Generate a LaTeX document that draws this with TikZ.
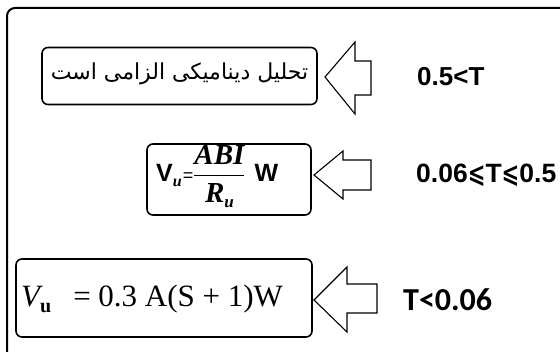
\documentclass[tikz,border=0pt]{standalone}
\usepackage{fontspec}
\setmainfont{Liberation Sans}
\newfontfamily\arabicfont[Script=Arabic]{DejaVu Sans}
\newfontfamily\tms{Liberation Serif}
\newfontfamily\calib{Carlito}
\newfontfamily\djv{DejaVu Sans}
\newcommand\myle{{\djv\bfseries\scalebox{0.8}[1]{⩽}}}
\TeXXeTstate=1
\tikzset{
  boxst/.style={draw, line width=1.6pt, rounded corners=6pt, inner sep=0pt},
  arrowst/.style={draw, line width=1.1pt, line join=miter},
  lbl/.style={anchor=west, inner sep=0pt}
}
\begin{document}
\begin{tikzpicture}[x=1pt,y=-1pt]
\useasboundingbox (0,0) rectangle (560,352);
% outer frame
\draw[line width=2pt, rounded corners=8pt] (7,353) -- (7,8) -- (562,8);
% boxes
\node[boxst, minimum width=275pt, minimum height=57pt] (b1) at (179.5,76) {};
\node[boxst, minimum width=164pt, minimum height=71pt] (b2) at (229,179.5) {};
\node[boxst, minimum width=296pt, minimum height=78pt] (b3) at (164,298) {};
% box texts
\node[inner sep=0pt] (t1) at ([yshift=2pt]b1.center) {\arabicfont\fontsize{22}{26}\selectfont\beginR تحلیل دینامیکی الزامی است\endR};
\node[anchor=west, inner sep=0pt] (t2) at (156,177) {\fontsize{25}{28}\selectfont\bfseries V\raisebox{-5pt}{\tms\bfseries\itshape\fontsize{16}{18}\selectfont u}\hspace{1pt}{\mdseries\fontsize{18}{20}\selectfont =}$\displaystyle\frac{\hbox{\tms\bfseries\itshape\fontsize{29}{32}\selectfont ABI\rule[-6pt]{0pt}{1pt}}}{\hbox{\tms\bfseries\itshape\fontsize{29}{32}\selectfont\rule{0pt}{26pt}R\raisebox{-5pt}{\fontsize{17}{18}\selectfont u}}}$\hspace{9pt}W};
\node[anchor=west, inner sep=0pt] (t3) at (21,299) {\tms\fontsize{31}{34}\selectfont\itshape V\raisebox{-6pt}{\fontsize{20}{22}\selectfont\upshape\bfseries u}\upshape\hspace{22pt}= 0.3 A(S + 1)W};
% arrows
\coordinate (a1) at (325,77);
\coordinate (a2) at (314,175);
\coordinate (a3) at (314,300);
\draw[arrowst] (a1) -- (355,42) -- (355,61) -- (371,61) -- (371,95) -- (355,95) -- (355,114) -- cycle;
\draw[arrowst] (a2) -- (343,151) -- (343,160) -- (371,160) -- (371,190) -- (343,190) -- (343,199) -- cycle;
\draw[arrowst] (a3) -- (347,267) -- (347,284) -- (377,284) -- (377,313) -- (347,313) -- (347,332) -- cycle;
% labels
\node[lbl] (l1) at (417,77) {\fontsize{26}{30}\selectfont\bfseries 0.5<T};
\node[lbl] (l2) at (416,175) {\fontsize{26.5}{30}\selectfont\bfseries 0.06\myle T\myle 0.5};
\node[lbl] (l3) at (403,300) {\calib\fontsize{32}{36}\selectfont\bfseries T<0.06};
\end{tikzpicture}
\end{document}
